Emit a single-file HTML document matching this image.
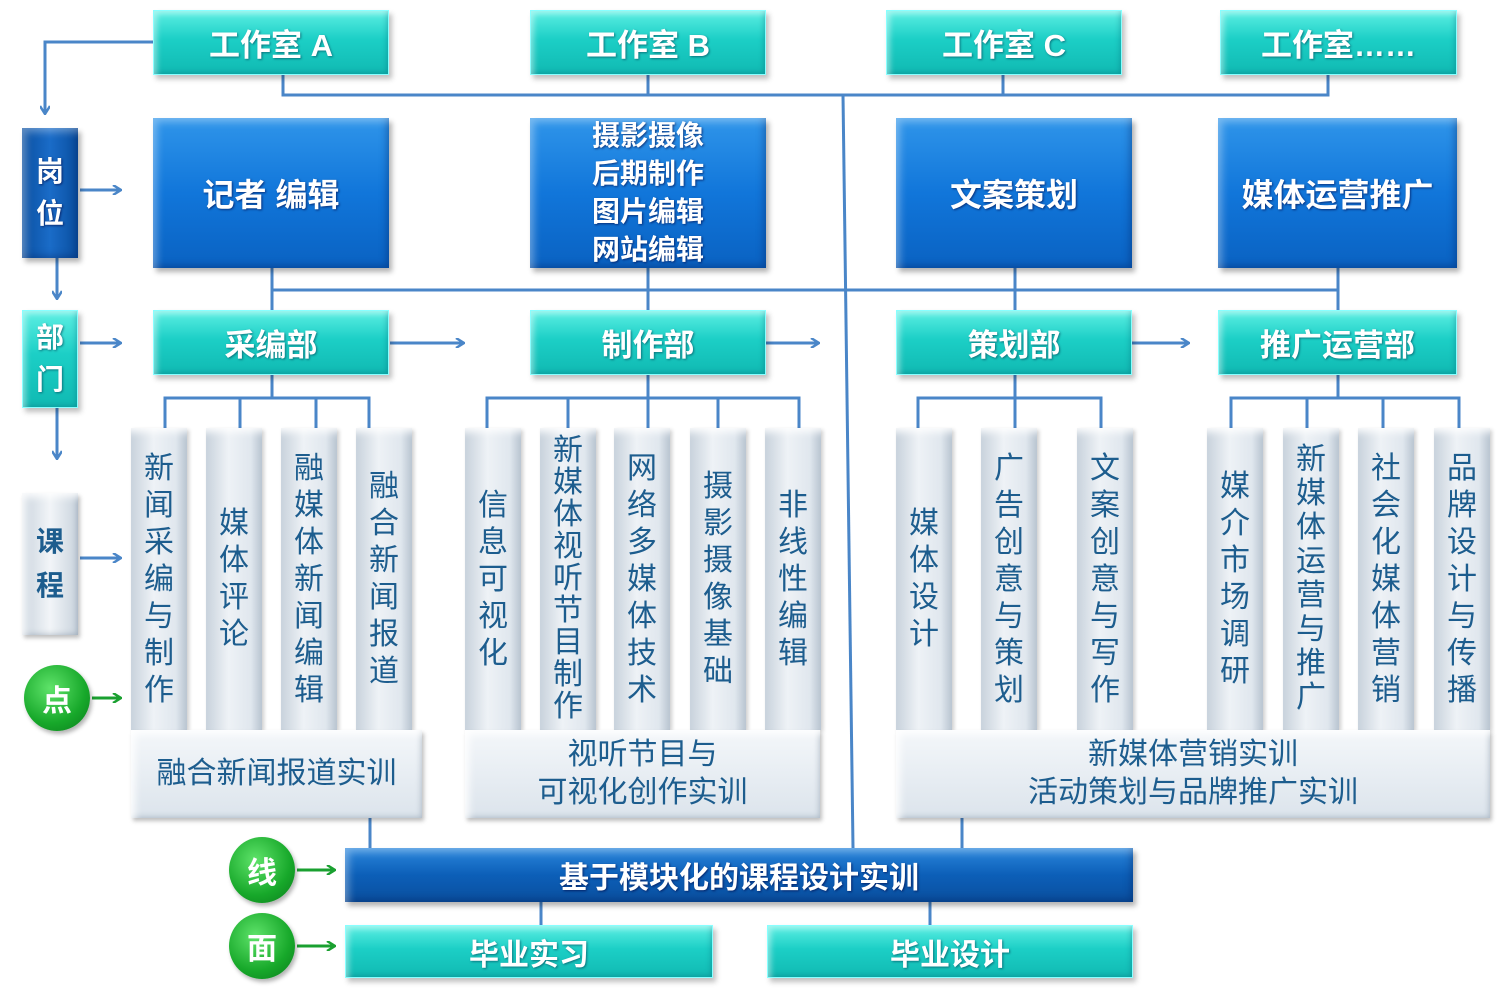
<!DOCTYPE html>
<html><head><meta charset="utf-8"><style>
body{margin:0;width:1500px;height:993px;background:#fff;position:relative;overflow:hidden;font-family:"Liberation Sans","Noto Sans CJK SC",sans-serif}
.a{position:absolute;box-sizing:border-box}
.t{background:linear-gradient(#5ef0e4,#1ccfc6 45%,#10b9b2);box-shadow:inset 0 0 0 1px #8ff,inset 8px 8px 6px -4px rgba(255,255,255,.45),inset -6px -6px 6px -4px rgba(0,90,110,.35),3px 4px 5px rgba(0,0,0,.25);color:#fff;font-weight:bold;display:flex;align-items:center;justify-content:center;font-size:31px;text-shadow:1px 1px 2px rgba(0,60,80,.6)}
.b{background:linear-gradient(#2f95ea,#1176da 50%,#0a62c2);box-shadow:inset 10px 10px 8px -6px rgba(255,255,255,.35),inset -8px -8px 8px -6px rgba(0,30,90,.4),3px 4px 5px rgba(0,0,0,.3);color:#fff;font-weight:bold;display:flex;align-items:center;justify-content:center;text-align:center;text-shadow:1px 1px 2px rgba(0,0,60,.6)}
.c{background:linear-gradient(90deg,#c8d2dc,#eef2f6 40%,#e0e7ee 80%,#b8c4d0);box-shadow:inset 0 10px 8px -6px rgba(255,255,255,.9),2px 2px 4px rgba(0,0,0,.2);color:#1d5d8e;font-size:30px;line-height:37px;display:flex;align-items:center;justify-content:center;text-align:center}
.p{background:linear-gradient(#f4f7fa,#dce4ec);box-shadow:inset 10px 10px 8px -6px rgba(255,255,255,.9),inset -4px -4px 6px -3px rgba(90,110,130,.35),2px 3px 4px rgba(0,0,0,.25);color:#1d5d8e;font-size:30px;line-height:38px;display:flex;align-items:center;justify-content:center;text-align:center}
.g{border-radius:50%;background:radial-gradient(circle at 40% 35%,#5fe36a,#17a82a 60%,#0b7a1c);box-shadow:2px 3px 4px rgba(0,0,0,.3);color:#fff;font-weight:bold;font-size:30px;display:flex;align-items:center;justify-content:center}
svg{position:absolute;left:0;top:0}
</style></head><body>
<svg width="1500" height="993">
<defs>
<marker id="m" markerWidth="10" markerHeight="10" refX="8" refY="5" orient="auto" markerUnits="userSpaceOnUse"><path d="M1,0 L9,5 L1,10" fill="none" stroke="#4a86c8" stroke-width="2.5"/></marker>
<marker id="mg" markerWidth="10" markerHeight="10" refX="8" refY="5" orient="auto" markerUnits="userSpaceOnUse"><path d="M1,0 L9,5 L1,10" fill="none" stroke="#1aa030" stroke-width="2.5"/></marker>
</defs>
<g stroke="#4a86c8" stroke-width="3" fill="none">
<path d="M153,42 H45 V113" marker-end="url(#m)"/>
<path d="M283,75 V95 H1328 V75 M648,75 V95 M1003,75 V95"/>
<path d="M843,95 L853,848"/>
<path d="M272,268 V310 M272,290 H1338 V268 M648,268 V310 M1015,268 V310 M1338,290 V310"/>
<path d="M57,258 V298" marker-end="url(#m)"/>
<path d="M57,408 V458" marker-end="url(#m)"/>
<path d="M80,190 H120" marker-end="url(#m)"/>
<path d="M80,343 H120" marker-end="url(#m)"/>
<path d="M80,558 H120" marker-end="url(#m)"/>
<path d="M390,343 H463" marker-end="url(#m)"/>
<path d="M766,343 H818" marker-end="url(#m)"/>
<path d="M1132,343 H1188" marker-end="url(#m)"/>
<path d="M272,375 V398 M165,428 V398 H369 V428 M240,398 V428 M316,398 V428"/>
<path d="M648,375 V428 M487,428 V398 H799 V428 M568,398 V428 M718,398 V428"/>
<path d="M1015,375 V428 M918,428 V398 H1101 V428"/>
<path d="M1338,375 V398 M1231,428 V398 H1459 V428 M1307,398 V428 M1383,398 V428"/>
<path d="M370,818 V848 M962,818 V848 M541,902 V925 M930,902 V925"/>
</g>
<g stroke="#1aa030" stroke-width="3" fill="none">
<path d="M92,698 H120" marker-end="url(#mg)"/>
<path d="M297,870 H334" marker-end="url(#mg)"/>
<path d="M297,946 H334" marker-end="url(#mg)"/>
</g>
</svg>

<div class="a t" style="left:153px;top:10px;width:236px;height:65px">工作室 A</div>
<div class="a t" style="left:530px;top:10px;width:236px;height:65px">工作室 B</div>
<div class="a t" style="left:886px;top:10px;width:236px;height:65px">工作室 C</div>
<div class="a t" style="left:1220px;top:10px;width:237px;height:65px">工作室……</div>

<div class="a b" style="left:22px;top:128px;width:56px;height:130px;font-size:28px;line-height:42px;background:linear-gradient(90deg,#0a4fa0,#1a6cc8 50%,#0a4fa0)">岗<br>位</div>
<div class="a b" style="left:153px;top:118px;width:236px;height:150px;font-size:32px">记者 编辑</div>
<div class="a b" style="left:530px;top:118px;width:236px;height:150px;font-size:28px;line-height:38px">摄影摄像<br>后期制作<br>图片编辑<br>网站编辑</div>
<div class="a b" style="left:896px;top:118px;width:236px;height:150px;font-size:32px">文案策划</div>
<div class="a b" style="left:1218px;top:118px;width:239px;height:150px;font-size:32px">媒体运营推广</div>

<div class="a t" style="left:22px;top:310px;width:56px;height:98px;font-size:28px;line-height:42px;text-align:center">部<br>门</div>
<div class="a t" style="left:153px;top:310px;width:236px;height:65px">采编部</div>
<div class="a t" style="left:530px;top:310px;width:236px;height:65px">制作部</div>
<div class="a t" style="left:896px;top:310px;width:236px;height:65px">策划部</div>
<div class="a t" style="left:1218px;top:310px;width:239px;height:65px">推广运营部</div>

<div class="a p" style="left:22px;top:493px;width:56px;height:142px;font-weight:bold;font-size:28px;line-height:44px;background:linear-gradient(90deg,#c9d3dd,#f2f5f8 50%,#c9d3dd)">课<br>程</div>
<div class="a g" style="left:24px;top:665px;width:66px;height:66px">点</div>
<div class="a g" style="left:229px;top:837px;width:66px;height:66px">线</div>
<div class="a g" style="left:229px;top:913px;width:66px;height:66px">面</div>

<div class="a c" style="left:131px;top:428px;width:56px;height:302px">新<br>闻<br>采<br>编<br>与<br>制<br>作</div>
<div class="a c" style="left:206px;top:428px;width:56px;height:302px">媒<br>体<br>评<br>论</div>
<div class="a c" style="left:281px;top:428px;width:56px;height:302px">融<br>媒<br>体<br>新<br>闻<br>编<br>辑</div>
<div class="a c" style="left:356px;top:428px;width:56px;height:302px">融<br>合<br>新<br>闻<br>报<br>道</div>

<div class="a c" style="left:465px;top:428px;width:56px;height:302px">信<br>息<br>可<br>视<br>化</div>
<div class="a c" style="left:540px;top:428px;width:56px;height:302px;line-height:32px">新<br>媒<br>体<br>视<br>听<br>节<br>目<br>制<br>作</div>
<div class="a c" style="left:614px;top:428px;width:56px;height:302px">网<br>络<br>多<br>媒<br>体<br>技<br>术</div>
<div class="a c" style="left:690px;top:428px;width:56px;height:302px">摄<br>影<br>摄<br>像<br>基<br>础</div>
<div class="a c" style="left:765px;top:428px;width:56px;height:302px">非<br>线<br>性<br>编<br>辑</div>

<div class="a c" style="left:896px;top:428px;width:56px;height:302px">媒<br>体<br>设<br>计</div>
<div class="a c" style="left:981px;top:428px;width:56px;height:302px">广<br>告<br>创<br>意<br>与<br>策<br>划</div>
<div class="a c" style="left:1077px;top:428px;width:56px;height:302px">文<br>案<br>创<br>意<br>与<br>写<br>作</div>
<div class="a c" style="left:1207px;top:428px;width:56px;height:302px">媒<br>介<br>市<br>场<br>调<br>研</div>
<div class="a c" style="left:1283px;top:428px;width:56px;height:302px;line-height:34px">新<br>媒<br>体<br>运<br>营<br>与<br>推<br>广</div>
<div class="a c" style="left:1358px;top:428px;width:56px;height:302px">社<br>会<br>化<br>媒<br>体<br>营<br>销</div>
<div class="a c" style="left:1434px;top:428px;width:56px;height:302px">品<br>牌<br>设<br>计<br>与<br>传<br>播</div>

<div class="a p" style="left:131px;top:730px;width:291px;height:88px">融合新闻报道实训</div>
<div class="a p" style="left:465px;top:730px;width:355px;height:88px">视听节目与<br>可视化创作实训</div>
<div class="a p" style="left:896px;top:730px;width:594px;height:88px">新媒体营销实训<br>活动策划与品牌推广实训</div>

<div class="a b" style="left:345px;top:848px;width:788px;height:54px;font-size:30px;background:linear-gradient(#2a86dc,#0c5fb8 50%,#0a4f9e)">基于模块化的课程设计实训</div>
<div class="a t" style="left:345px;top:925px;width:368px;height:53px;font-size:30px">毕业实习</div>
<div class="a t" style="left:767px;top:925px;width:366px;height:53px;font-size:30px">毕业设计</div>
</body></html>
